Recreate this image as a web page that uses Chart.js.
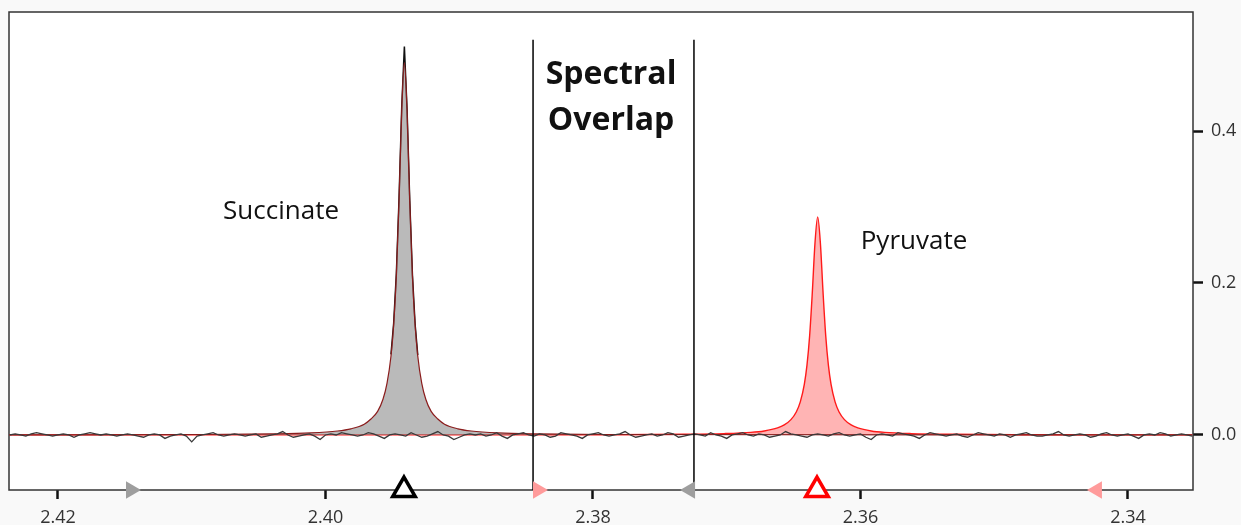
<!DOCTYPE html>
<html>
<head>
<meta charset="utf-8">
<script src="https://cdn.jsdelivr.net/npm/chart.js@4/dist/chart.umd.min.js"></script>
<style>
  html, body { margin: 0; padding: 0; background: #f9f9f9; }
  canvas { display: block; }
</style>
</head>
<body>
<canvas id="spectrum" width="1241" height="525"></canvas>
<script>
// axis ranges (ppm runs right to left)
const xMin = 2.33514, xMax = 2.42366;
const yMin = -0.0724, yMax = 0.5566;
const xTicks = [2.42, 2.40, 2.38, 2.36, 2.34];
const yTicks = [0.0, 0.2, 0.4];

// Succinate fit
const sucPpm = [2.4237, 2.4091, 2.4041, 2.4011, 2.3991, 2.3981, 2.3971, 2.3966, 2.3961, 2.3957, 2.3954,
  2.3951, 2.3949, 2.3947, 2.3945, 2.3943, 2.3941, 2.3939, 2.3937, 2.3935, 2.3933, 2.3931,
  2.3928, 2.3925, 2.3921, 2.3916, 2.3911, 2.3901, 2.3891, 2.3871, 2.3841, 2.3791, 2.3352];
const sucFit = [0.0002, 0.0006, 0.0014, 0.0027, 0.0052, 0.0081, 0.0142, 0.021, 0.031, 0.047, 0.068,
  0.104, 0.145, 0.210, 0.308, 0.426, 0.490, 0.426, 0.308, 0.210, 0.145, 0.104,
  0.068, 0.047, 0.031, 0.021, 0.0142, 0.0081, 0.0052, 0.0027, 0.0014, 0.0006, 0.0001];

// measured data around the succinate tip
const sucDataPpm = [2.3951, 2.3949, 2.3947, 2.3945, 2.3943, 2.3941, 2.3939, 2.3937, 2.3935, 2.3933, 2.3931];
const sucData = [0.106, 0.147, 0.212, 0.310, 0.430, 0.511, 0.428, 0.309, 0.211, 0.146, 0.105];

// Pyruvate fit
const pyrPpm = [2.4236, 2.3782, 2.3732, 2.3702, 2.3682, 2.3672, 2.3662, 2.3657, 2.3652, 2.3648, 2.3645,
  2.3642, 2.3640, 2.3638, 2.3636, 2.3634, 2.3632, 2.3630, 2.3628, 2.3626, 2.3624, 2.3622,
  2.3619, 2.3616, 2.3612, 2.3607, 2.3602, 2.3592, 2.3582, 2.3562, 2.3532, 2.3482, 2.3352];
const pyrFit = [0.0001, 0.0004, 0.0009, 0.0018, 0.0034, 0.0053, 0.0093, 0.0132, 0.0202, 0.0303, 0.0436,
  0.0666, 0.092, 0.131, 0.188, 0.253, 0.287, 0.253, 0.188, 0.131, 0.092, 0.0666,
  0.0436, 0.0303, 0.0202, 0.0132, 0.0093, 0.0053, 0.0034, 0.0018, 0.0009, 0.0004, 0.0001];

// baseline residual, sampled every 0.0004 ppm from 2.4236 (values x 0.0015)
const noiseStart = 2.4236, noiseStep = 0.0004, noiseUnit = 0.0015;
const noise = [
  0, 1, 0, -1, 1, 2, 1, 0, -1, 0, 1, 0, -2, 0, 1, 2, 1, 0, 1, 0, -1, 0,
  1, 0, -1, -2, 0, 1, 0, -3, -1, 0, 1, -1, -6, -1, 0, 1, 2, 0, -1, 0, 1, 0,
  -1, 0, 1, -2, -1, 0, 1, 3, 0, -2, -1, 0, 1, -1, -4, 0, 1, 0, 2, 1, 0, -1,
  0, 2, 1, -1, -3, 0, 1, 0, -1, 2, 0, -2, -1, 1, 3, 0, -1, -4, -2, 0, 1, 0,
  1, -1, 0, 2, -1, -3, 0, 1, 2, 0, -1, 1, 0, -2, -1, 2, 1, 0, -1, -3, 0, 1,
  2, 0, -1, 0, 1, 3, 0, -2, -1, 0, 1, -1, 0, 2, 1, -2, -1, 0, 1, 0, -1, 2,
  0, -1, -3, 0, 1, 2, 0, -1, 1, 0, -2, -1, 0, 3, 1, 0, -1, -2, 0, 1, 0, -1,
  1, 2, 0, -1, 0, 1, -2, -4, 0, 1, 0, -1, 2, 1, 0, -1, -3, 0, 2, 1, 0, -1,
  0, 1, -1, -2, 0, 2, 1, 0, -1, 1, 0, -2, 0, 1, 2, 0, -1, -1, 0, 1, 3, 0,
  -1, 0, 1, 0, -2, -1, 1, 2, 0, -1, 0, 1, -1, -3, 0, 1, 0, 2, 1, -1, 0, 1, 0, -1
];

// overlap region borders
const overlapLines = [2.38448, 2.37245];
const overlapTop = 0.52;

// markers on the bottom axis
const markerPpm = [2.41454, 2.39413, 2.38411, 2.37274, 2.36325, 2.34232];
const markerRot = [90, 0, 90, -90, 0, -90];
const markerFill = ['#9e9e9e', '#ffffff', '#ff9b9b', '#9e9e9e', '#ffffff', '#ff9b9b'];
const markerEdge = ['#9e9e9e', '#000000', '#ff9b9b', '#9e9e9e', '#ff0000', '#ff9b9b'];
const markerWidth = [0, 3.5, 0, 0, 3.5, 0];
const markerSize = [10, 13, 10, 10, 13, 10];

// text labels
const notes = [
  { text: 'Succinate', x: 2.40332, y: 0.294, bold: false, size: 26 },
  { text: 'Pyruvate', x: 2.35600, y: 0.2545, bold: false, size: 26 },
  { text: 'Spectral', x: 2.37865, y: 0.4745, bold: true, size: 32 },
  { text: 'Overlap', x: 2.37865, y: 0.4135, bold: true, size: 32 }
];

const toPoints = (xs, ys) => xs.map((x, i) => ({ x: x, y: ys[i] }));

const noisePoints = noise.map((v, i) => ({ x: noiseStart - i * noiseStep, y: v * noiseUnit }));

const datasets = [
  {
    // markers
    data: markerPpm.map((x) => ({ x: x, y: yMin })),
    showLine: false,
    pointStyle: 'triangle',
    rotation: markerRot,
    pointRadius: markerSize,
    backgroundColor: markerFill,
    borderColor: markerEdge,
    borderWidth: markerWidth,
    clip: false
  },
  {
    data: [{ x: overlapLines[0], y: yMin }, { x: overlapLines[0], y: overlapTop }],
    showLine: true, borderColor: '#000', borderWidth: 1.5, pointRadius: 0
  },
  {
    data: [{ x: overlapLines[1], y: yMin }, { x: overlapLines[1], y: overlapTop }],
    showLine: true, borderColor: '#000', borderWidth: 1.5, pointRadius: 0
  },
  {
    data: noisePoints,
    showLine: true, borderColor: '#3a3a3a', borderWidth: 1.3, pointRadius: 0
  },
  {
    data: toPoints(sucPpm, sucFit),
    showLine: true, borderColor: '#8a1c1c', borderWidth: 1.2, pointRadius: 0,
    cubicInterpolationMode: 'monotone',
    fill: 'origin', backgroundColor: 'rgba(140,140,140,0.6)'
  },
  {
    data: toPoints(sucDataPpm, sucData),
    showLine: true, borderColor: '#111', borderWidth: 1.5, pointRadius: 0
  },
  {
    data: toPoints(pyrPpm, pyrFit),
    showLine: true, borderColor: '#ff1a1a', borderWidth: 1.4, pointRadius: 0,
    cubicInterpolationMode: 'monotone',
    fill: 'origin', backgroundColor: 'rgba(255,140,140,0.65)'
  }
];

const backdrop = {
  id: 'backdrop',
  beforeDraw(chart) {
    const { ctx, chartArea: a } = chart;
    ctx.save();
    ctx.fillStyle = '#f9f9f9';
    ctx.fillRect(0, 0, chart.width, chart.height);
    ctx.fillStyle = '#ffffff';
    ctx.fillRect(a.left, a.top, a.right - a.left, a.bottom - a.top);
    ctx.restore();
  }
};

const frame = {
  id: 'frame',
  beforeDatasetsDraw(chart) {
    const { ctx, chartArea: a } = chart;
    ctx.save();
    ctx.strokeStyle = '#333';
    ctx.lineWidth = 1.5;
    ctx.strokeRect(a.left, a.top, a.right - a.left, a.bottom - a.top);
    ctx.restore();
  }
};

const labels = {
  id: 'labels',
  afterDatasetsDraw(chart) {
    const { ctx, scales } = chart;
    ctx.save();
    ctx.fillStyle = '#111';
    ctx.textAlign = 'center';
    ctx.textBaseline = 'middle';
    notes.forEach((n) => {
      ctx.font = (n.bold ? 'bold ' : '') + n.size + 'px "Open Sans"';
      ctx.fillText(n.text, scales.x.getPixelForValue(n.x), scales.y.getPixelForValue(n.y));
    });
    ctx.restore();
  }
};

const tickFont = { family: 'Open Sans', size: 18 };

new Chart(document.getElementById('spectrum'), {
  type: 'scatter',
  data: { datasets: datasets },
  options: {
    responsive: false,
    animation: false,
    devicePixelRatio: 1,
    layout: { autoPadding: false, padding: { left: 9, top: 12, right: 0, bottom: 0 } },
    plugins: { legend: { display: false }, tooltip: { enabled: false } },
    scales: {
      x: {
        type: 'linear',
        reverse: true,
        min: xMin,
        max: xMax,
        border: { display: false },
        grid: { drawOnChartArea: false, drawTicks: true, tickLength: 9, tickWidth: 2.5, tickColor: '#111' },
        ticks: { font: tickFont, color: '#333', padding: 8, maxRotation: 0, callback: (v) => v.toFixed(2) },
        afterBuildTicks: (scale) => { scale.ticks = xTicks.map((v) => ({ value: v })); },
        afterFit: (scale) => {
          scale.height = 35;
          scale.paddingLeft = 0;
          scale.paddingRight = 0;
        }
      },
      y: {
        type: 'linear',
        position: 'right',
        min: yMin,
        max: yMax,
        border: { display: false },
        grid: { drawOnChartArea: false, drawTicks: true, tickLength: 10, tickWidth: 2.5, tickColor: '#111' },
        ticks: { font: tickFont, color: '#333', padding: 8, callback: (v) => v.toFixed(1) },
        afterBuildTicks: (scale) => { scale.ticks = yTicks.map((v) => ({ value: v })); },
        afterFit: (scale) => {
          scale.width = 48;
          scale.paddingTop = 0;
          scale.paddingBottom = 0;
        }
      }
    }
  },
  plugins: [backdrop, frame, labels]
});
</script>
</body>
</html>
